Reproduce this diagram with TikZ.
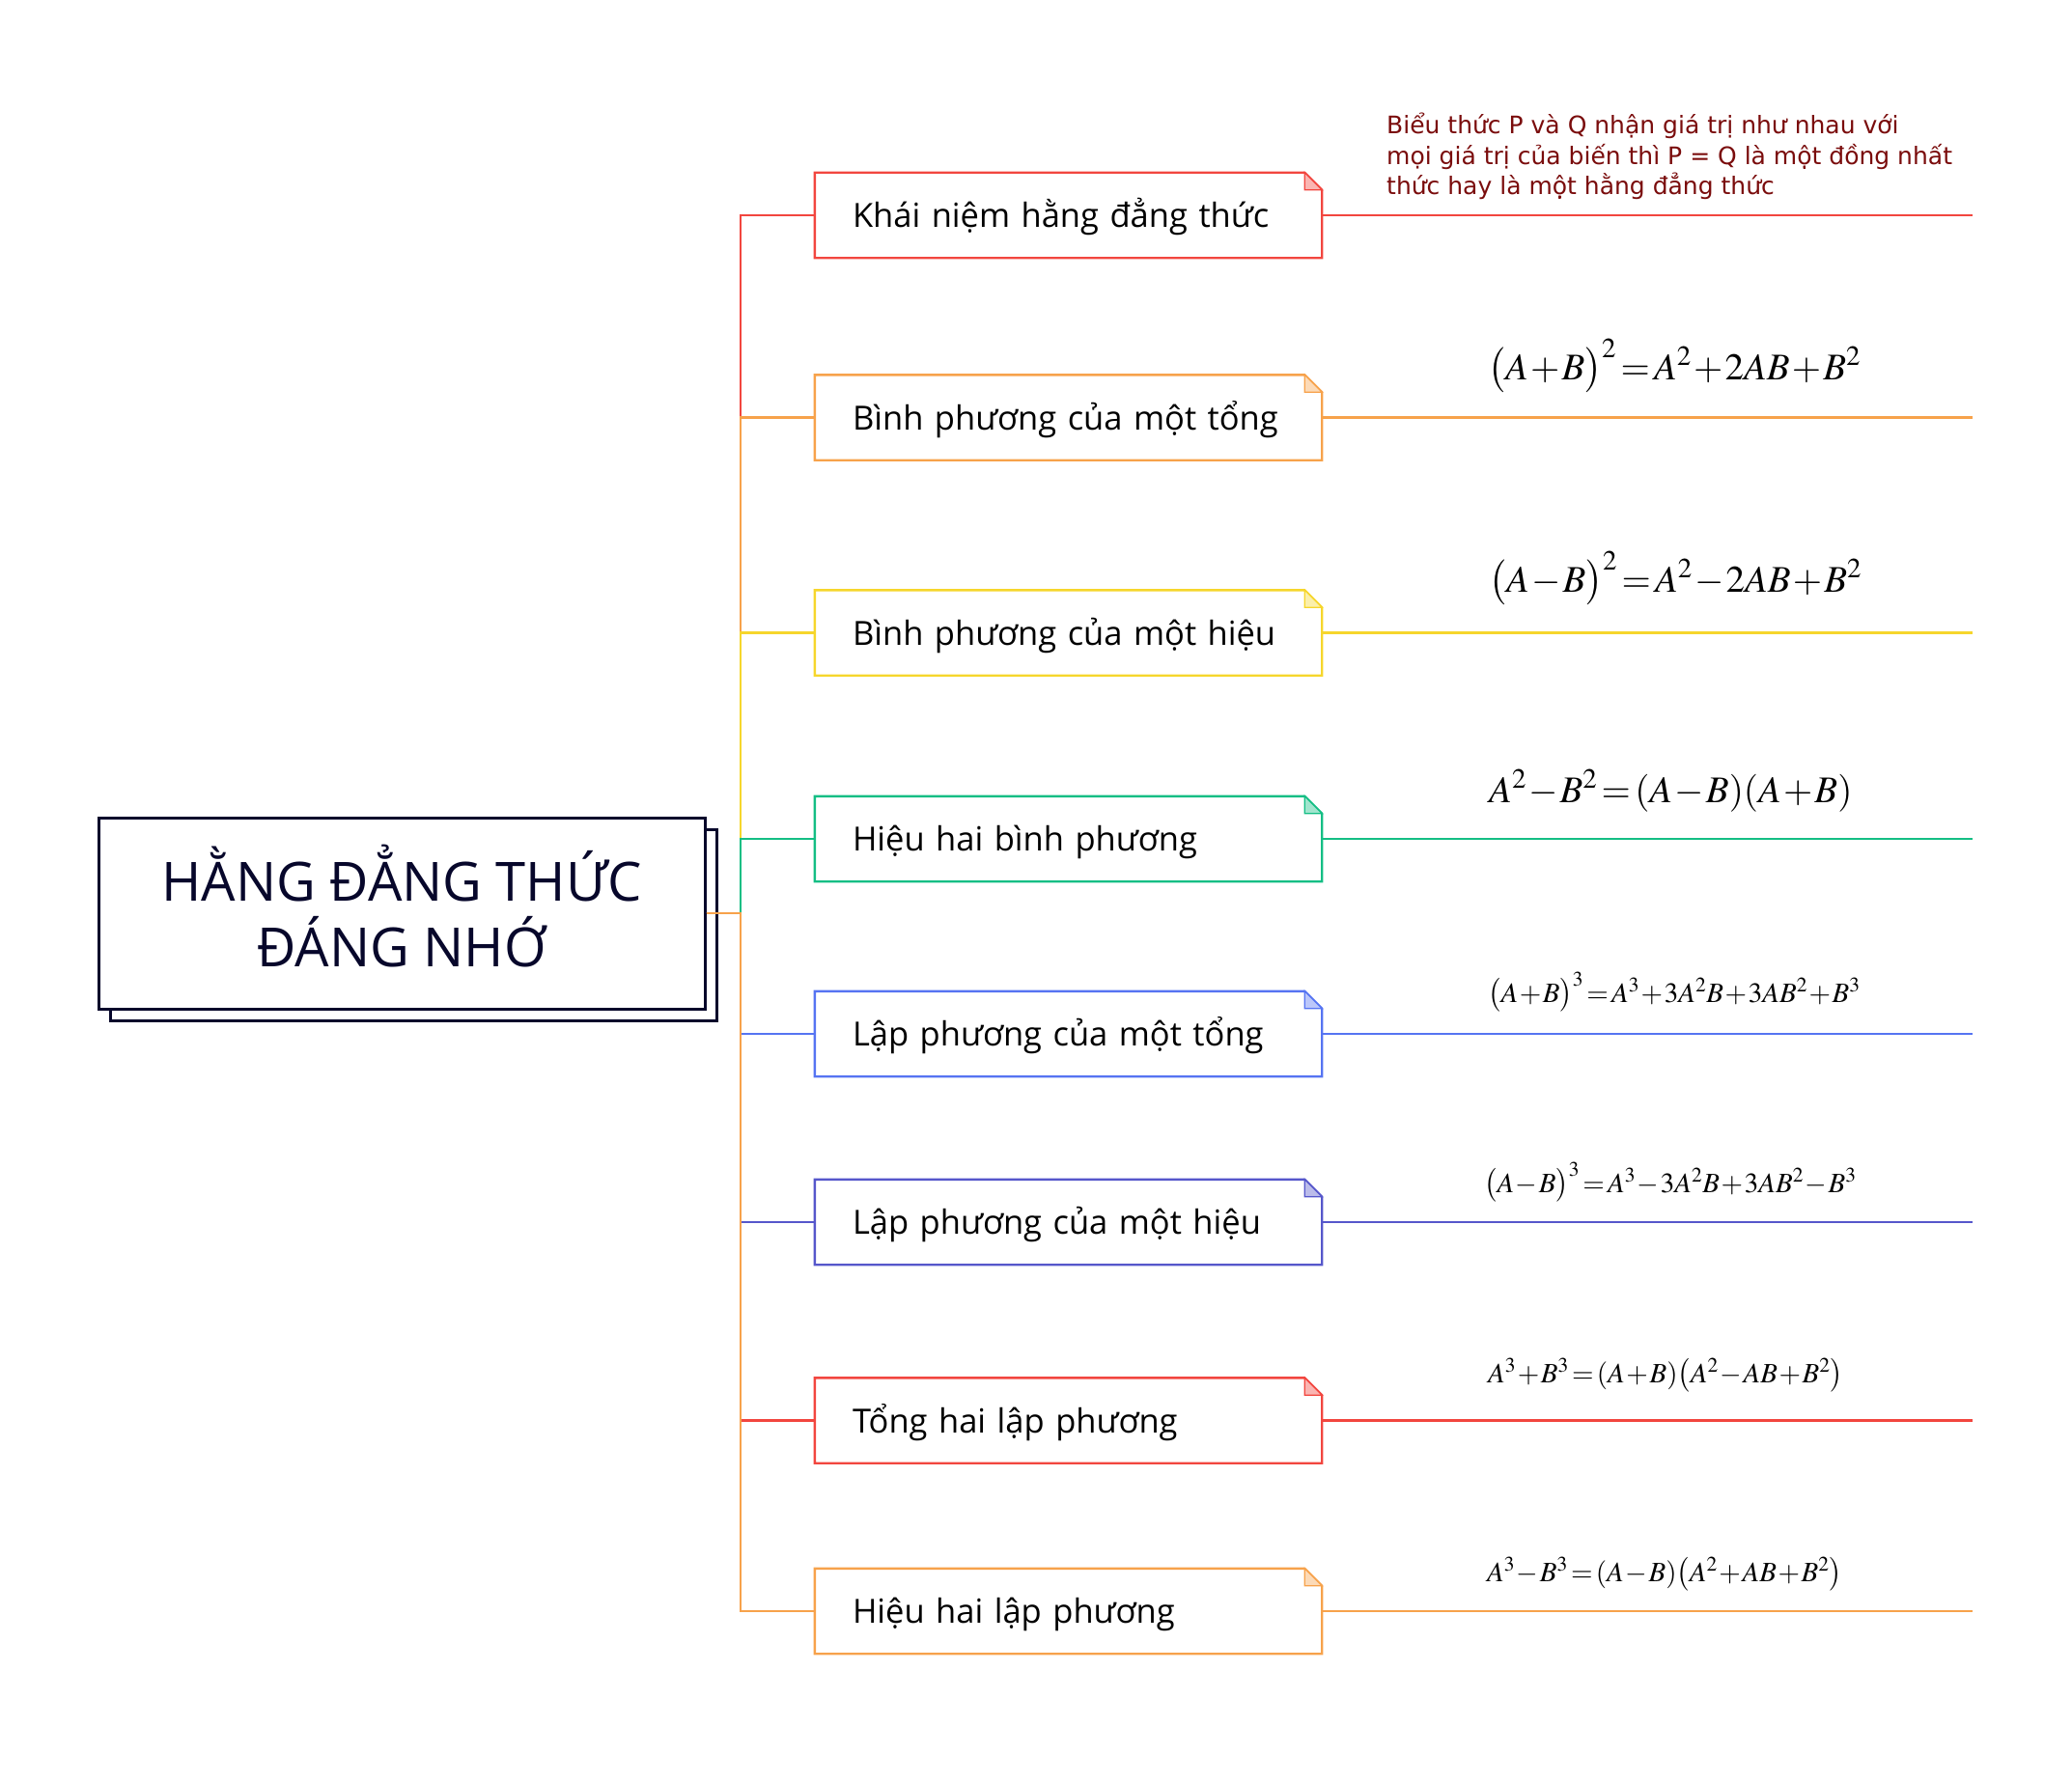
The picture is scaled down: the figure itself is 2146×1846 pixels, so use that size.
\documentclass[tikz,border=0pt]{standalone}
\usepackage{mathptmx}
\usepackage[no-math]{fontspec}
\setmainfont{Open Sans}
\newfontfamily\notefont{DejaVu Sans}
\usetikzlibrary{shadows}
\definecolor{cNavy}{HTML}{07072B}
\definecolor{cRed}{HTML}{F2463F}
\definecolor{cOrange}{HTML}{F7A24B}
\definecolor{cYellow}{HTML}{F6D62C}
\definecolor{cGreen}{HTML}{14BE84}
\definecolor{cBlue}{HTML}{5674F2}
\definecolor{cIndigo}{HTML}{5657CB}
\definecolor{cNote}{HTML}{7A0C0C}
\begin{document}
\begin{tikzpicture}[x=1pt, y=-1pt,
    rootbox/.style={draw=cNavy, line width=3pt, fill=white, minimum width=628pt, minimum height=198pt,
      align=center, text=cNavy, font=\fontsize{56}{68}\selectfont, text depth=16pt,
      copy shadow={shadow xshift=12pt, shadow yshift=-12pt}},
    notebox/.style={minimum width=525pt, minimum height=88pt, text width=485pt, inner xsep=20pt,
      inner ysep=0pt, text height=25pt, text depth=0pt, align=left, font=\fontsize{34.5}{42}\selectfont,
      execute at begin node={\hspace*{19pt}}},
    frame/.style={line width=2.4pt, line join=miter},
    fold/.style={line width=1.2pt, line join=miter},
    branch/.style={line width=2.2pt},
    bigfml/.style={anchor=base west, inner sep=0pt, font=\fontsize{39}{47}\selectfont,
      execute at begin node={\medmuskip=1mu\relax\thickmuskip=2mu\relax}},
    smallfml/.style={anchor=base west, inner sep=0pt, font=\fontsize{29}{35}\selectfont,
      execute at begin node={\medmuskip=1mu\relax\thickmuskip=2mu\relax}}]
\useasboundingbox (0,0) rectangle (2146,1846);
% root
\node (root) [rootbox] at (416,946) {HẰNG ĐẲNG THỨC\\ĐÁNG NHỚ};
\coordinate (hub) at (767,946);
% branches
\node (kn) [notebox] at (1106.5,223) {Khái niệm hằng đẳng thức};
\draw [frame, cRed] (kn.north west) -- ([xshift=-18pt]kn.north east) -- ([yshift=-18pt]kn.north east) -- (kn.south east) -- (kn.south west) -- cycle;
\draw [fold, cRed, fill=cRed!40] ([xshift=-18pt]kn.north east) -- ([xshift=-18pt,yshift=-18pt]kn.north east) -- ([yshift=-18pt]kn.north east) -- cycle;
\node (bpt) [notebox] at (1106.5,432.5) {Bình phương của một tổng};
\draw [frame, cOrange] (bpt.north west) -- ([xshift=-18pt]bpt.north east) -- ([yshift=-18pt]bpt.north east) -- (bpt.south east) -- (bpt.south west) -- cycle;
\draw [fold, cOrange, fill=cOrange!40] ([xshift=-18pt]bpt.north east) -- ([xshift=-18pt,yshift=-18pt]bpt.north east) -- ([yshift=-18pt]bpt.north east) -- cycle;
\node (bph) [notebox] at (1106.5,655.5) {Bình phương của một hiệu};
\draw [frame, cYellow] (bph.north west) -- ([xshift=-18pt]bph.north east) -- ([yshift=-18pt]bph.north east) -- (bph.south east) -- (bph.south west) -- cycle;
\draw [fold, cYellow, fill=cYellow!40] ([xshift=-18pt]bph.north east) -- ([xshift=-18pt,yshift=-18pt]bph.north east) -- ([yshift=-18pt]bph.north east) -- cycle;
\node (hbp) [notebox] at (1106.5,869) {Hiệu hai bình phương};
\draw [frame, cGreen] (hbp.north west) -- ([xshift=-18pt]hbp.north east) -- ([yshift=-18pt]hbp.north east) -- (hbp.south east) -- (hbp.south west) -- cycle;
\draw [fold, cGreen, fill=cGreen!40] ([xshift=-18pt]hbp.north east) -- ([xshift=-18pt,yshift=-18pt]hbp.north east) -- ([yshift=-18pt]hbp.north east) -- cycle;
\node (lpt) [notebox] at (1106.5,1071) {Lập phương của một tổng};
\draw [frame, cBlue] (lpt.north west) -- ([xshift=-18pt]lpt.north east) -- ([yshift=-18pt]lpt.north east) -- (lpt.south east) -- (lpt.south west) -- cycle;
\draw [fold, cBlue, fill=cBlue!40] ([xshift=-18pt]lpt.north east) -- ([xshift=-18pt,yshift=-18pt]lpt.north east) -- ([yshift=-18pt]lpt.north east) -- cycle;
\node (lph) [notebox] at (1106.5,1266) {Lập phương của một hiệu};
\draw [frame, cIndigo] (lph.north west) -- ([xshift=-18pt]lph.north east) -- ([yshift=-18pt]lph.north east) -- (lph.south east) -- (lph.south west) -- cycle;
\draw [fold, cIndigo, fill=cIndigo!40] ([xshift=-18pt]lph.north east) -- ([xshift=-18pt,yshift=-18pt]lph.north east) -- ([yshift=-18pt]lph.north east) -- cycle;
\node (thl) [notebox] at (1106.5,1471.5) {Tổng hai lập phương};
\draw [frame, cRed] (thl.north west) -- ([xshift=-18pt]thl.north east) -- ([yshift=-18pt]thl.north east) -- (thl.south east) -- (thl.south west) -- cycle;
\draw [fold, cRed, fill=cRed!40] ([xshift=-18pt]thl.north east) -- ([xshift=-18pt,yshift=-18pt]thl.north east) -- ([yshift=-18pt]thl.north east) -- cycle;
\node (hhl) [notebox] at (1106.5,1669) {Hiệu hai lập phương};
\draw [frame, cOrange] (hhl.north west) -- ([xshift=-18pt]hhl.north east) -- ([yshift=-18pt]hhl.north east) -- (hhl.south east) -- (hhl.south west) -- cycle;
\draw [fold, cOrange, fill=cOrange!40] ([xshift=-18pt]hhl.north east) -- ([xshift=-18pt,yshift=-18pt]hhl.north east) -- ([yshift=-18pt]hhl.north east) -- cycle;
% connectors root -> branches
\draw [branch, cRed] (root.east) -- (hub) |- (kn.west);
\draw [branch, cOrange] (root.east) -- (hub) |- (bpt.west);
\draw [branch, cYellow] (root.east) -- (hub) |- (bph.west);
\draw [branch, cGreen] (root.east) -- (hub) |- (hbp.west);
\draw [branch, cBlue] (root.east) -- (hub) |- (lpt.west);
\draw [branch, cIndigo] (root.east) -- (hub) |- (lph.west);
\draw [branch, cRed] (root.east) -- (hub) |- (thl.west);
\draw [branch, cOrange] (root.east) -- (hub) |- (hhl.west);
% lines to the right
\coordinate (kn-end) at (2043,223);
\coordinate (bpt-end) at (2043,432.5);
\coordinate (bph-end) at (2043,655.5);
\coordinate (hbp-end) at (2043,869);
\coordinate (lpt-end) at (2043,1071);
\coordinate (lph-end) at (2043,1266);
\coordinate (thl-end) at (2043,1471.5);
\coordinate (hhl-end) at (2043,1669);
\draw [branch, cRed] (kn.east) -- (kn-end);
\draw [branch, cOrange] (bpt.east) -- (bpt-end);
\draw [branch, cYellow] (bph.east) -- (bph-end);
\draw [branch, cGreen] (hbp.east) -- (hbp-end);
\draw [branch, cBlue] (lpt.east) -- (lpt-end);
\draw [branch, cIndigo] (lph.east) -- (lph-end);
\draw [branch, cRed] (thl.east) -- (thl-end);
\draw [branch, cOrange] (hhl.east) -- (hhl-end);
% texts above the lines
\node (kn-note) [anchor=base west, inner sep=0pt, align=left, text=cNote, font=\notefont\fontsize{25}{31.5}\selectfont] at (1436,201.5)
  {Biểu thức P và Q nhận giá trị như nhau với\\mọi giá trị của biến thì P = Q là một đồng nhất\\thức hay là một hằng đẳng thức};
\node (bpt-fml) [bigfml] at (1541,393) {$\bigl(A+B\bigr)^2=A^2+2AB+B^2$};
\node (bph-fml) [bigfml] at (1542,613) {$\bigl(A-B\bigr)^2=A^2-2AB+B^2$};
\node (hbp-fml) [bigfml] at (1542,831) {$A^2-B^2=(A-B)(A+B)$};
\node (lpt-fml) [smallfml] at (1541,1038) {$\bigl(A+B\bigr)^3=A^3+3A^2B+3AB^2+B^3$};
\node (lph-fml) [smallfml] at (1537,1235) {$\bigl(A-B\bigr)^3=A^3-3A^2B+3AB^2-B^3$};
\node (thl-fml) [smallfml] at (1541,1432) {$A^3+B^3=(A+B)\bigl(A^2-AB+B^2\bigr)$};
\node (hhl-fml) [smallfml] at (1540,1638) {$A^3-B^3=(A-B)\bigl(A^2+AB+B^2\bigr)$};
\end{tikzpicture}
\end{document}
